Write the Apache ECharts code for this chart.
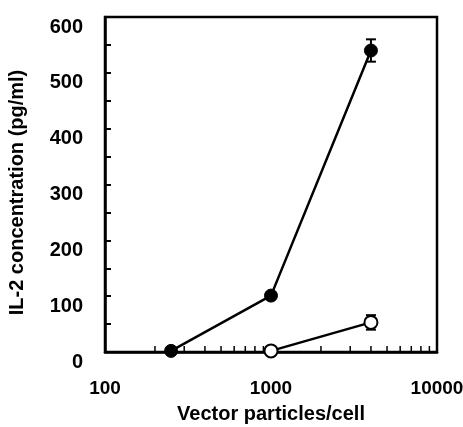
<!DOCTYPE html>
<html>
<head>
<meta charset="utf-8">
<script src="https://cdn.jsdelivr.net/npm/echarts@6/dist/echarts.min.js"></script>
<style>
html,body{margin:0;padding:0;background:#fff;}
#J_Main{width:463px;height:427px;}
</style>
</head>
<body>
<div id="J_Main"></div>
<script>
// vector particles per cell
var doses = [250, 1000, 4000];
var filledValues = [2, 101, 540];
var filledErrors = [0, 0, 20];
var openDoses = [1000, 4000];
var openValues = [2, 53];
var openErrors = [0, 13];
var xMinorTicks = [200, 300, 400, 500, 600, 700, 800, 900, 2000, 3000, 4000, 5000, 6000, 7000, 8000, 9000];
var yTicks = [0, 100, 200, 300, 400, 500, 600];

var FONT = "Liberation Sans";

function pairs(xs, ys, es) {
    return xs.map(function (x, i) { return es ? [x, ys[i], es[i]] : [x, ys[i]]; });
}

function errorBarItem(params, api) {
    var x = api.value(0), y = api.value(1), e = api.value(2);
    if (!e) return;
    var top = api.coord([x, y + e]), bot = api.coord([x, y - e]);
    var w = 5;
    var st = { stroke: '#000', lineWidth: 2 };
    return {
        type: 'group',
        children: [
            { type: 'line', shape: { x1: top[0], y1: top[1], x2: bot[0], y2: bot[1] }, style: st },
            { type: 'line', shape: { x1: top[0] - w, y1: top[1], x2: top[0] + w, y2: top[1] }, style: st },
            { type: 'line', shape: { x1: bot[0] - w, y1: bot[1], x2: bot[0] + w, y2: bot[1] }, style: st }
        ]
    };
}

function minorTickItem(params, api) {
    var p = api.coord([api.value(0), 0]);
    return {
        type: 'line',
        shape: { x1: p[0], y1: p[1], x2: p[0], y2: p[1] - 6 },
        style: { stroke: '#000', lineWidth: 1.5 }
    };
}

var myChart = echarts.init(document.getElementById('J_Main'));
var option = {
    animation: false,
    backgroundColor: '#fff',
    grid: {
        left: 105,
        right: 26,
        top: 17,
        bottom: 75,
        outerBoundsMode: 'none',
        containLabel: false,
        show: true,
        borderColor: '#000',
        borderWidth: 2.5
    },
    xAxis: {
        type: 'log',
        logBase: 10,
        min: 100,
        max: 10000,
        name: 'Vector particles/cell',
        nameLocation: 'middle',
        nameGap: 52,
        nameTextStyle: { color: '#000', fontSize: 20, fontWeight: 'bold', fontFamily: FONT },
        axisLine: { lineStyle: { color: '#000', width: 2.5 } },
        axisTick: { show: false },
        splitLine: { show: false },
        axisLabel: {
            color: '#000', fontSize: 19, fontWeight: 'bold', fontFamily: FONT, margin: 27,
            formatter: function (v) { return String(v); }
        }
    },
    yAxis: {
        type: 'value',
        min: 0,
        max: 600,
        interval: 100,
        name: 'IL-2 concentration (pg/ml)',
        nameLocation: 'middle',
        nameGap: 78,
        nameTextStyle: { color: '#000', fontSize: 20, fontWeight: 'bold', fontFamily: FONT, padding: [0, 0, 0, -16] },
        axisLine: { show: true, lineStyle: { color: '#000', width: 2.5 } },
        axisTick: { show: true, inside: true, length: 6, lineStyle: { color: '#000', width: 2 } },
        minorTick: { show: true, splitNumber: 2, length: 6, lineStyle: { color: '#000', width: 2 } },
        splitLine: { show: false },
        axisLabel: {
            color: '#000', fontSize: 20, fontWeight: 'bold', fontFamily: FONT, margin: 22,
            verticalAlign: 'top',
            formatter: function (v) { return yTicks.indexOf(v) >= 0 ? String(v) : ''; }
        }
    },
    series: [{
        type: 'line',
        data: pairs(doses, filledValues),
        symbol: 'circle',
        symbolSize: 13,
        lineStyle: { color: '#000', width: 2.5 },
        itemStyle: { color: '#000', borderColor: '#000', borderWidth: 1 },
        z: 3
    }, {
        type: 'line',
        data: pairs(openDoses, openValues),
        symbol: 'circle',
        symbolSize: 13,
        lineStyle: { color: '#000', width: 2.5 },
        itemStyle: { color: '#fff', borderColor: '#000', borderWidth: 2 },
        z: 3
    }, {
        type: 'custom',
        renderItem: errorBarItem,
        data: pairs(doses, filledValues, filledErrors),
        z: 2
    }, {
        type: 'custom',
        renderItem: errorBarItem,
        data: pairs(openDoses, openValues, openErrors),
        z: 2
    }, {
        type: 'custom',
        renderItem: minorTickItem,
        data: xMinorTicks.map(function (v) { return [v, 0]; }),
        silent: true,
        z: 1
    }]
};
myChart.setOption(option);
</script>
</body>
</html>
